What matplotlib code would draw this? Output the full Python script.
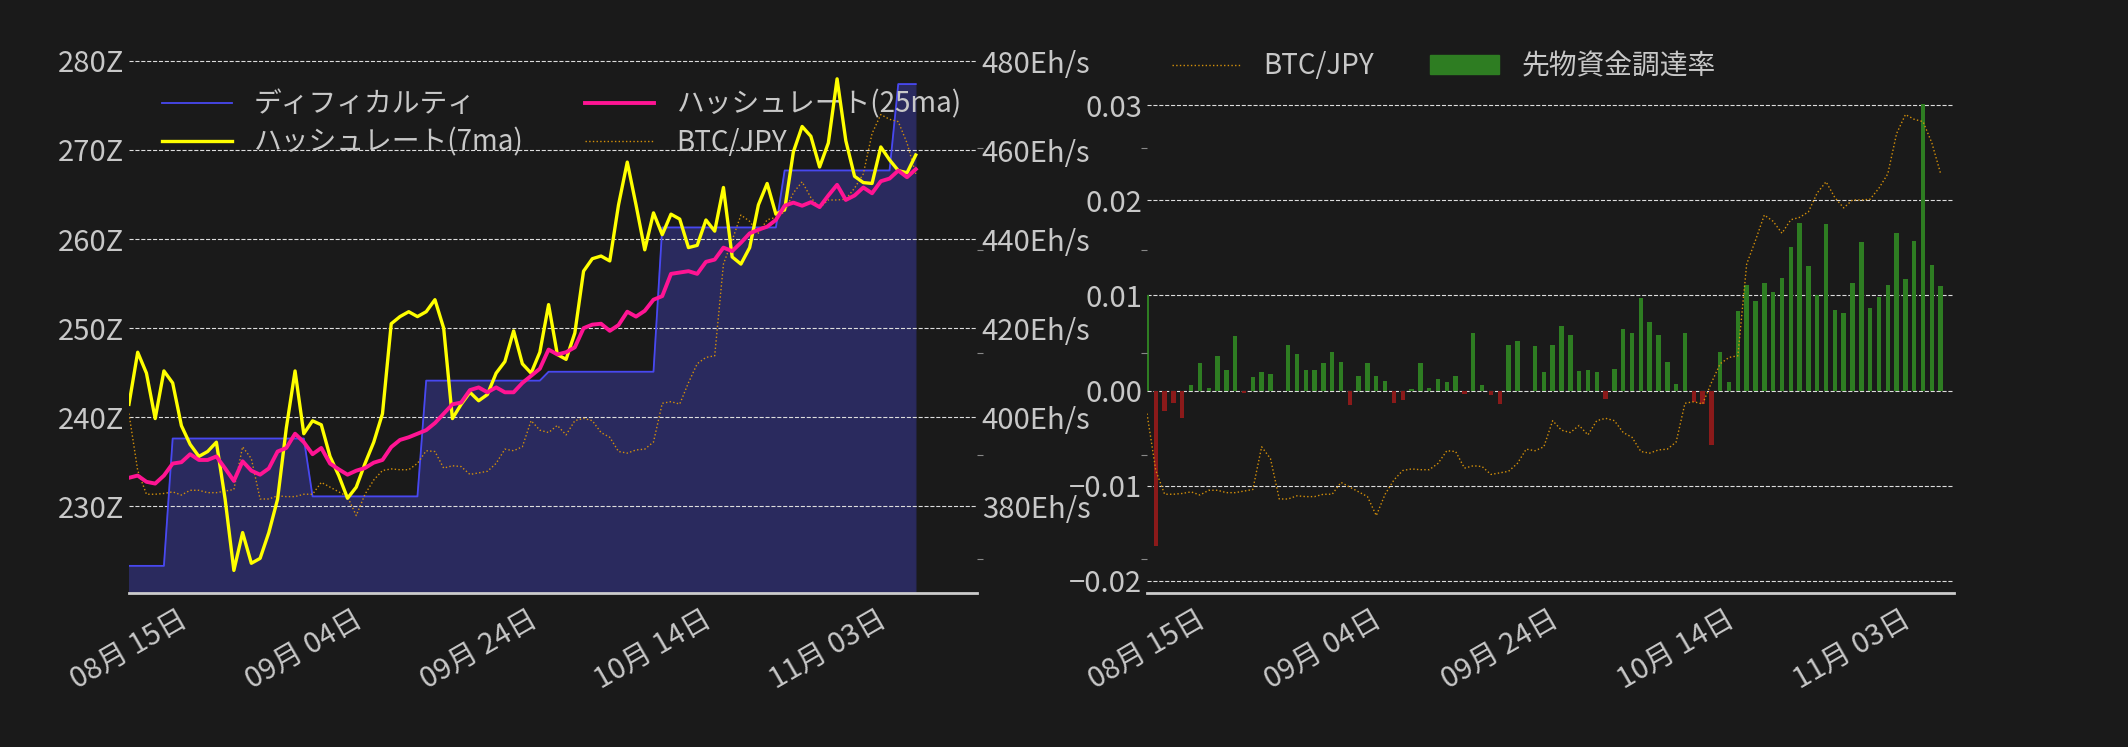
import numpy as np
import matplotlib
matplotlib.use("Agg")
import matplotlib.pyplot as plt
import matplotlib.dates as mdates
from matplotlib.patches import Patch

plt.rcParams['font.family'] = ['Noto Sans CJK JP', 'DejaVu Sans']

dates = np.arange(np.datetime64('2024-08-15'), np.datetime64('2024-11-14'))  # 91 days

difficulty = [223.3]*5 + [237.6]*16 + [231.1]*13 + [244.1]*14 + [245.1]*13 + [261.3]*14 + [267.7]*13 + [277.4]*3

hashrate_7ma = [402.9, 414.6, 409.9, 399.7, 410.4, 407.7, 398.1, 393.9, 391.2, 392.3,
                394.4, 381.6, 365.6, 374.1, 367.2, 368.3, 374.1, 381.6, 397.6, 410.4,
                396.3, 399.2, 398.3, 391.2, 386.9, 381.8, 384.3, 389.6, 394.4, 400.8,
                421.0, 422.6, 423.7, 422.6, 423.7, 426.4, 420.0, 399.7, 402.9, 405.6,
                403.7, 405.1, 409.9, 412.5, 419.4, 412.0, 409.9, 414.6, 425.3, 414.1,
                413.0, 418.9, 432.8, 435.6, 436.2, 435.1, 447.7, 457.3, 447.7, 437.6,
                445.9, 441.0, 445.6, 444.5, 438.1, 438.6, 444.3, 441.8, 451.6, 436.0,
                434.4, 438.1, 447.7, 452.5, 445.6, 446.6, 459.6, 465.3, 463.1, 456.2,
                461.6, 476.0, 462.1, 454.1, 452.7, 452.5, 460.7, 457.8, 455.4, 454.9, 458.9]

hashrate_25ma = [386.4, 386.9, 385.5, 385.1, 386.9, 389.6, 389.9, 391.7, 390.4, 390.4,
                 391.2, 388.5, 385.7, 390.1, 388.0, 387.1, 388.5, 392.3, 393.1, 396.3,
                 394.4, 391.7, 393.1, 389.6, 388.3, 387.1, 388.0, 388.6, 389.8, 390.4,
                 393.3, 394.9, 395.5, 396.3, 397.1, 398.7, 400.8, 402.9, 403.3, 406.1,
                 406.7, 405.6, 406.7, 405.6, 405.6, 407.7, 409.3, 410.9, 415.2, 414.1,
                 414.6, 415.7, 420.0, 420.8, 421.0, 419.4, 420.7, 423.7, 422.6, 423.9,
                 426.4, 427.2, 432.2, 432.5, 432.8, 432.2, 434.9, 435.4, 438.1, 437.3,
                 439.2, 441.3, 442.1, 442.8, 444.3, 447.5, 448.2, 447.5, 448.3, 447.2,
                 449.8, 452.2, 448.8, 449.8, 451.6, 450.3, 453.0, 453.6, 455.4, 453.9, 455.7]

btc_jpy = [9.72, 9.00, 8.70, 8.70, 8.71, 8.73, 8.69, 8.75, 8.75, 8.72,
           8.72, 8.74, 8.76, 9.30, 9.15, 8.64, 8.64, 8.68, 8.67, 8.67,
           8.70, 8.70, 8.85, 8.79, 8.73, 8.67, 8.43, 8.70, 8.88, 9.00,
           9.02, 9.01, 9.01, 9.09, 9.25, 9.24, 9.03, 9.06, 9.05, 8.95,
           8.97, 8.99, 9.09, 9.27, 9.25, 9.30, 9.63, 9.51, 9.48, 9.57,
           9.45, 9.63, 9.66, 9.63, 9.48, 9.42, 9.24, 9.22, 9.26, 9.27,
           9.36, 9.85, 9.87, 9.84, 10.11, 10.35, 10.43, 10.45, 11.61, 11.91,
           12.23, 12.15, 12.00, 12.17, 12.20, 12.27, 12.51, 12.65, 12.45, 12.32,
           12.42, 12.42, 12.43, 12.57, 12.75, 13.26, 13.50, 13.44, 13.41, 13.14, 12.75]

funding_rate = [0.0100, -0.0163, -0.0022, -0.0013, -0.0029, 0.0006, 0.0029, 0.0003, 0.0036, 0.0022,
                0.0057, -0.0003, 0.0014, 0.0019, 0.0017, 0.0000, 0.0048, 0.0038, 0.0022, 0.0022,
                0.0029, 0.0040, 0.0030, -0.0015, 0.0015, 0.0029, 0.0015, 0.0010, -0.0013, -0.0010,
                0.0002, 0.0029, 0.0003, 0.0012, 0.0009, 0.0015, -0.0004, 0.0060, 0.0006, -0.0005,
                -0.0014, 0.0048, 0.0052, 0.0000, 0.0047, 0.0019, 0.0048, 0.0068, 0.0058, 0.0020,
                0.0022, 0.0019, -0.0009, 0.0023, 0.0065, 0.0060, 0.0097, 0.0072, 0.0058, 0.0030,
                0.0007, 0.0061, -0.0012, -0.0014, -0.0057, 0.0041, 0.0009, 0.0084, 0.0111, 0.0094,
                0.0113, 0.0104, 0.0118, 0.0151, 0.0176, 0.0131, 0.0100, 0.0175, 0.0085, 0.0081,
                0.0113, 0.0156, 0.0087, 0.0098, 0.0111, 0.0166, 0.0117, 0.0157, 0.0301, 0.0132, 0.0110]

left_yticks = [230, 240, 250, 260, 270, 280]
hr_yticks = [380, 400, 420, 440, 460, 480]
right_yticks = [-0.02, -0.01, 0.0, 0.01, 0.02, 0.03]

BG = '#1a1a1a'
TXT = '#c8c8c8'
FS = 21
fig = plt.figure(figsize=(21.28, 7.47), dpi=100, facecolor=BG)

x = dates.astype('datetime64[D]').astype(object)
xmin = np.datetime64('2024-08-15').astype(object)
xmax_left = np.datetime64('2024-11-20').astype(object)
xmax_right = (np.datetime64('2024-11-14T12')).astype(object)
tick_dates = [np.datetime64(d).astype(object) for d in ['2024-08-15', '2024-09-04', '2024-09-24', '2024-10-14', '2024-11-03']]
btc_lim = (7.45, 14.34)
btc_ticks = [7.88, 9.19, 10.48, 11.79, 13.08]

def style_x(ax, xmax):
    ax.set_xlim(xmin, xmax)
    ax.set_xticks(tick_dates)
    ax.xaxis.set_major_formatter(mdates.DateFormatter('%m月 %d日'))
    for lab in ax.get_xticklabels():
        lab.set_rotation(30); lab.set_ha('center')
    ax.tick_params(axis='x', colors=TXT, labelsize=FS, length=0, pad=8)

def hide_axis(a, side):
    for s in a.spines.values():
        s.set_visible(False)
    a.set_ylim(*btc_lim)
    a.set_yticks(btc_ticks)
    a.yaxis.set_ticks_position(side)
    a.tick_params(axis='y', labelleft=False, labelright=False, colors='#888888', length=4)

# ---------- left chart ----------
ax1 = fig.add_axes([0.0606, 0.206, 0.3985, 0.7296], facecolor=BG)
ax1.fill_between(x, 0, difficulty, color='#2a2a5e', zorder=1)
l_diff, = ax1.plot(x, difficulty, color='#4848f0', lw=1.3, zorder=2)
ax1.set_ylim(220.24, 281.44)
ax1.set_yticks(left_yticks)
ax1.set_yticklabels([f'{v}Z' for v in left_yticks])
ax1.grid(axis='y', color='#dddddd', ls='--', lw=0.8)
for s in ['top', 'left', 'right']:
    ax1.spines[s].set_visible(False)
ax1.spines['bottom'].set_color('#cccccc'); ax1.spines['bottom'].set_linewidth(2)
ax1.tick_params(axis='y', colors=TXT, labelsize=FS, length=0)
style_x(ax1, xmax_left)

ax3 = ax1.twinx()
hide_axis(ax3, 'right')
l_btc, = ax3.plot(x, btc_jpy, color='#d4900a', lw=1.0, ls=':')

ax2 = ax1.twinx()
for s in ax2.spines.values():
    s.set_visible(False)
ax2.set_ylim(360.5, 482.9)
ax2.set_yticks(hr_yticks)
ax2.set_yticklabels([f'{v}Eh/s' for v in hr_yticks])
ax2.tick_params(axis='y', colors=TXT, labelsize=FS, length=0)
l_h7, = ax2.plot(x, hashrate_7ma, color='#ffff00', lw=2.4)
l_h25, = ax2.plot(x, hashrate_25ma, color='#ff1493', lw=2.8)
style_x(ax2, xmax_left)

ax1.legend([l_diff, l_h7, l_h25, l_btc], ['ディフィカルティ', 'ハッシュレート(7ma)', 'ハッシュレート(25ma)', 'BTC/JPY'],
           ncol=2, loc='upper left', bbox_to_anchor=(0.01, 0.97), frameon=False, fontsize=20,
           labelcolor=TXT, columnspacing=2.2, handlelength=2.5, labelspacing=0.3)

# ---------- right chart ----------
bx = fig.add_axes([0.539, 0.206, 0.3792, 0.7296], facecolor=BG)
colors = ['#2e7d22' if v >= 0 else '#8b1a1a' for v in funding_rate]
bx.bar(x, funding_rate, width=0.5, color=colors, zorder=2)
bx.set_ylim(-0.0213, 0.036)
bx.set_yticks(right_yticks)
bx.set_yticklabels(['−0.02', '−0.01', '0.00', '0.01', '0.02', '0.03'])
bx.yaxis.tick_right()
bx.tick_params(axis='y', colors=TXT, labelsize=FS, length=0)
bx.grid(axis='y', color='#dddddd', ls='--', lw=0.8)
for s in ['top', 'left', 'right']:
    bx.spines[s].set_visible(False)
bx.spines['bottom'].set_color('#cccccc'); bx.spines['bottom'].set_linewidth(2)
style_x(bx, xmax_right)

bx2 = bx.twinx()
hide_axis(bx2, 'left')
b_btc, = bx2.plot(x, btc_jpy, color='#d4900a', lw=1.0, ls=':')
style_x(bx2, xmax_right)

bx.legend([b_btc, Patch(color='#2e7d22')], ['BTC/JPY', '先物資金調達率'], ncol=2, loc='upper left',
          bbox_to_anchor=(0.0, 1.04), frameon=False, fontsize=20, labelcolor=TXT,
          columnspacing=2, handlelength=2.5)

fig.savefig('out.png', dpi=100, facecolor=BG)
